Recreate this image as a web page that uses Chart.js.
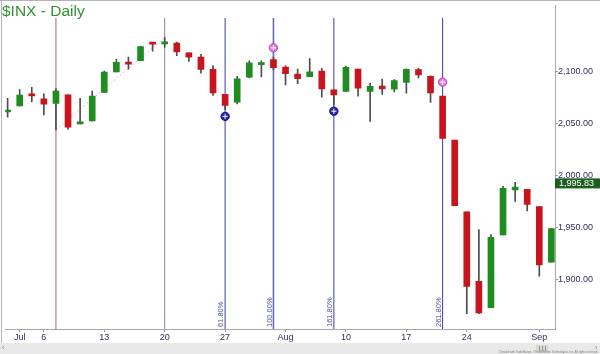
<!DOCTYPE html>
<html>
<head>
<meta charset="utf-8">
<script src="https://cdn.jsdelivr.net/npm/chart.js@4.4.0/dist/chart.umd.min.js"></script>
<style>
  html, body { margin: 0; padding: 0; background: #fff; }
  #wrap { width: 600px; height: 354px; }
</style>
</head>
<body>
<div id="wrap"><canvas id="grafikInx" width="600" height="354"></canvas></div>
<script>
// hari bursa, 30 Jun - 2 Sep 2015 (indeks 0..45)
const tanggal = [
  "06-30", "07-01", "07-02", "07-06", "07-07", "07-08", "07-09", "07-10",
  "07-13", "07-14", "07-15", "07-16", "07-17", "07-20", "07-21", "07-22",
  "07-23", "07-24", "07-27", "07-28", "07-29", "07-30", "07-31", "08-03",
  "08-04", "08-05", "08-06", "08-07", "08-10", "08-11", "08-12", "08-13",
  "08-14", "08-17", "08-18", "08-19", "08-20", "08-21", "08-24", "08-25",
  "08-26", "08-27", "08-28", "08-31", "09-01", "09-02",
];
const hargaBuka = [
  2061.19, 2067.0, 2078.03, 2073.95, 2069.52, 2077.66, 2049.73, 2052.74,
  2080.03, 2099.72, 2109.0, 2110.55, 2126.8, 2126.85, 2127.55, 2118.21,
  2114.16, 2102.24, 2078.19, 2070.75, 2094.7, 2106.78, 2111.6, 2104.49,
  2097.68, 2095.27, 2100.75, 2082.61, 2080.98, 2102.66, 2081.1, 2086.19,
  2083.15, 2089.7, 2101.99, 2095.69, 2076.61, 2034.08, 1965.15, 1898.08,
  1872.75, 1942.77, 1986.06, 1986.73, 1970.09, 1916.52,
];
const hargaTinggi = [
  2074.28, 2082.78, 2085.06, 2078.61, 2083.74, 2077.66, 2074.28, 2081.31,
  2100.67, 2111.98, 2114.14, 2124.42, 2128.0, 2132.82, 2128.49, 2118.51,
  2116.87, 2106.01, 2078.19, 2095.6, 2110.6, 2110.48, 2114.24, 2105.7,
  2102.51, 2112.66, 2103.32, 2082.61, 2105.35, 2102.66, 2089.06, 2092.93,
  2092.45, 2102.87, 2103.47, 2096.17, 2076.61, 2034.08, 1965.15, 1948.04,
  1943.09, 1989.6, 1993.48, 1986.73, 1970.09, 1948.91,
];
const hargaRendah = [
  2056.32, 2067.0, 2071.02, 2058.4, 2044.02, 2044.66, 2049.73, 2052.74,
  2080.03, 2099.72, 2102.49, 2110.55, 2119.88, 2123.66, 2115.4, 2110.0,
  2098.63, 2077.09, 2063.52, 2069.09, 2094.08, 2094.97, 2102.07, 2087.31,
  2088.6, 2095.27, 2075.53, 2067.91, 2080.98, 2076.49, 2052.09, 2078.26,
  2080.61, 2079.3, 2094.14, 2070.53, 2035.73, 1970.89, 1867.01, 1867.08,
  1872.75, 1942.77, 1975.19, 1965.98, 1903.07, 1916.52,
];
const hargaTutup = [
  2063.11, 2077.42, 2076.78, 2068.76, 2081.34, 2046.68, 2051.31, 2076.62,
  2099.6, 2108.95, 2107.4, 2124.29, 2126.64, 2128.28, 2119.21, 2114.15,
  2102.15, 2079.65, 2067.64, 2093.25, 2108.57, 2108.63, 2103.84, 2098.04,
  2093.32, 2099.84, 2083.56, 2077.57, 2104.18, 2084.07, 2086.05, 2083.39,
  2091.54, 2102.44, 2096.92, 2079.61, 2035.73, 1970.89, 1893.21, 1867.61,
  1940.51, 1987.66, 1988.87, 1972.18, 1913.85, 1948.86,
];
const hargaTerakhir = 1995.83;

// label sumbu
const posisiTickX = [1, 3, 8, 13, 18, 23, 28, 33, 38, 44];
const labelTickX = ["Jul", "6", "13", "20", "27", "Aug", "10", "17", "24", "Sep"];
const tickY = [1900, 1950, 2000, 2050, 2100];

// garis waktu & fibonacci
const garisWaktu = [4, 13];
const garisFibo = [18, 22, 27, 36];
const labelFibo = ["61.80%", "100.00%", "161.80%", "261.80%"];
const titikBiruX = [18, 27];
const titikBiruY = [2057, 2062];
const titikUnguX = [22, 36];
const titikUnguY = [2123, 2090];
const trenX = [4, 13];
const trenY = [2044.02, 2132.82];

const HIJAU = "#1f8c1f";
const MERAH = "#c8141c";
const FONT = "'Liberation Sans', Arial, sans-serif";

const warnaBadan = hargaBuka.map((o, i) => (hargaTutup[i] >= o ? HIJAU : MERAH));

const hiasan = {
  id: "hiasan",
  beforeDraw(chart) {
    const c = chart.ctx;
    c.save();
    c.fillStyle = "#fff";
    c.fillRect(0, 0, chart.width, chart.height);
    // pita bawah
    c.fillStyle = "#e9e9e9";
    c.fillRect(0, 343, 600, 11);
    c.fillStyle = "#d6d6d6";
    c.fillRect(536, 345, 12, 7);
    c.strokeStyle = "#999";
    c.lineWidth = 1;
    for (let k = 0; k < 3; k++) {
      c.beginPath();
      c.moveTo(539.5 + k * 3, 346);
      c.lineTo(539.5 + k * 3, 351);
      c.stroke();
    }
    c.fillStyle = "#777";
    c.font = "7px " + FONT;
    c.textBaseline = "middle";
    c.fillText("\u2039", 2, 348);
    c.fillText("\u203a", 595, 348);
    c.restore();
  },
  beforeDatasetsDraw(chart) {
    const c = chart.ctx;
    const x = chart.scales.x;
    const area = chart.chartArea;
    c.save();
    // bingkai
    c.strokeStyle = "#b4b4b4";
    c.lineWidth = 1;
    c.beginPath();
    c.moveTo(0, 0.5);
    c.lineTo(600, 0.5);
    c.moveTo(1.5, 0);
    c.lineTo(1.5, 343);
    c.stroke();

    garisWaktu.forEach((idx, n) => {
      const px = x.getPixelForValue(idx);
      c.strokeStyle = n === 0 ? "#a0647a" : "#8c8298";
      c.lineWidth = 1;
      c.beginPath();
      c.moveTo(px, 18);
      c.lineTo(px, area.bottom);
      c.stroke();
    });

    garisFibo.forEach((idx, n) => {
      const px = x.getPixelForValue(idx);
      c.strokeStyle = n === 1 ? "#6a6ab4" : "#3a3aa8";
      c.lineWidth = n === 1 ? 1.6 : 1;
      c.beginPath();
      c.moveTo(px, 18);
      c.lineTo(px, area.bottom);
      c.stroke();

      c.save();
      c.translate(px - 4, area.bottom - 2);
      c.rotate(-Math.PI / 2);
      c.fillStyle = "#4a4aa6";
      c.font = "7.5px " + FONT;
      c.textAlign = "left";
      c.textBaseline = "middle";
      c.fillText(labelFibo[n], 0, 0);
      c.restore();
    });
    c.restore();
  },
  afterDraw(chart) {
    const c = chart.ctx;
    const y = chart.scales.y;
    c.save();
    // judul
    c.fillStyle = "#2f922f";
    c.font = "15.5px " + FONT;
    c.textBaseline = "alphabetic";
    c.fillText("$INX - Daily", 2, 16);

    // label harga terakhir
    const py = y.getPixelForValue(hargaTerakhir);
    c.fillStyle = "#1b5e20";
    c.fillRect(555, py - 1.5, 45, 10);
    c.fillStyle = "#fff";
    c.font = "9px " + FONT;
    c.textBaseline = "middle";
    c.fillText("1,995.83", 559, py + 3.5);

    // kredit
    c.fillStyle = "#777";
    c.font = "2.8px " + FONT;
    c.textAlign = "right";
    c.textBaseline = "alphabetic";
    c.fillText("Created with TradeStation. \u00a9TradeStation Technologies, Inc. All rights reserved.", 598, 352.5);
    c.restore();
  },
};

const ctx = document.getElementById("grafikInx").getContext("2d");

let grafikInx = new Chart(ctx, {
  type: "bar",
  data: {
    datasets: [
      {
        type: "line",
        label: "tren",
        data: trenX.map((v, i) => ({ x: v, y: trenY[i] })),
        borderColor: "#eab2cc",
        borderWidth: 1,
        borderDash: [2, 2],
        pointRadius: 0,
        order: 5,
      },
      {
        label: "sumbu",
        data: tanggal.map((d, i) => ({ x: i, y: [hargaRendah[i], hargaTinggi[i]] })),
        backgroundColor: "#4d4d4d",
        barThickness: 1,
        grouped: false,
        order: 4,
      },
      {
        label: "badan",
        data: tanggal.map((d, i) => ({ x: i, y: [hargaBuka[i], hargaTutup[i]] })),
        backgroundColor: warnaBadan,
        barThickness: 6,
        minBarLength: 2,
        grouped: false,
        order: 3,
      },
      {
        type: "scatter",
        label: "biru",
        data: titikBiruX.map((v, i) => ({ x: v, y: titikBiruY[i] })),
        pointRadius: 4.2,
        backgroundColor: "#2424b0",
        borderColor: "#15157c",
        borderWidth: 1,
        order: 2,
      },
      {
        type: "scatter",
        label: "ungu",
        data: titikUnguX.map((v, i) => ({ x: v, y: titikUnguY[i] })),
        pointRadius: 4.2,
        backgroundColor: "#e57ae5",
        borderColor: "#b444b4",
        borderWidth: 1,
        order: 2,
      },
      {
        type: "scatter",
        label: "silang",
        data: titikBiruX
          .map((v, i) => ({ x: v, y: titikBiruY[i] }))
          .concat(titikUnguX.map((v, i) => ({ x: v, y: titikUnguY[i] }))),
        pointStyle: "cross",
        pointRadius: 2.6,
        borderColor: "#ffffff",
        borderWidth: 1,
        order: 1,
      },
    ],
  },
  options: {
    responsive: false,
    animation: false,
    layout: { padding: { left: 2, top: 1, right: 0, bottom: 0 } },
    plugins: {
      legend: { display: false },
      tooltip: { enabled: false },
    },
    scales: {
      x: {
        type: "linear",
        min: -0.2,
        max: 45.3,
        offset: false,
        grid: { drawOnChartArea: false, offset: false, tickLength: 3, color: "#999" },
        border: { color: "#a8a8a8" },
        ticks: {
          autoSkip: false,
          maxRotation: 0,
          padding: 0,
          color: "#2e2e5c",
          font: { family: FONT, size: 9 },
          callback: (value) => labelTickX[posisiTickX.indexOf(value)],
        },
        afterBuildTicks: (scale) => {
          scale.ticks = posisiTickX.map((v) => ({ value: v }));
        },
        afterFit: (scale) => {
          scale.height = 25;
        },
      },
      y: {
        position: "right",
        min: 1852.2,
        max: 2163.9,
        beginAtZero: false,
        grid: { drawOnChartArea: false, tickLength: 3, color: "#999" },
        border: { color: "#a8a8a8" },
        ticks: {
          padding: 0,
          color: "#2e2e5c",
          font: { family: FONT, size: 9 },
          callback: (value) =>
            value.toLocaleString("en-US", { minimumFractionDigits: 2, maximumFractionDigits: 2 }),
        },
        afterBuildTicks: (scale) => {
          scale.ticks = tickY.map((v) => ({ value: v }));
        },
        afterFit: (scale) => {
          scale.width = 45;
        },
      },
    },
  },
  plugins: [hiasan],
});
</script>
</body>
</html>
